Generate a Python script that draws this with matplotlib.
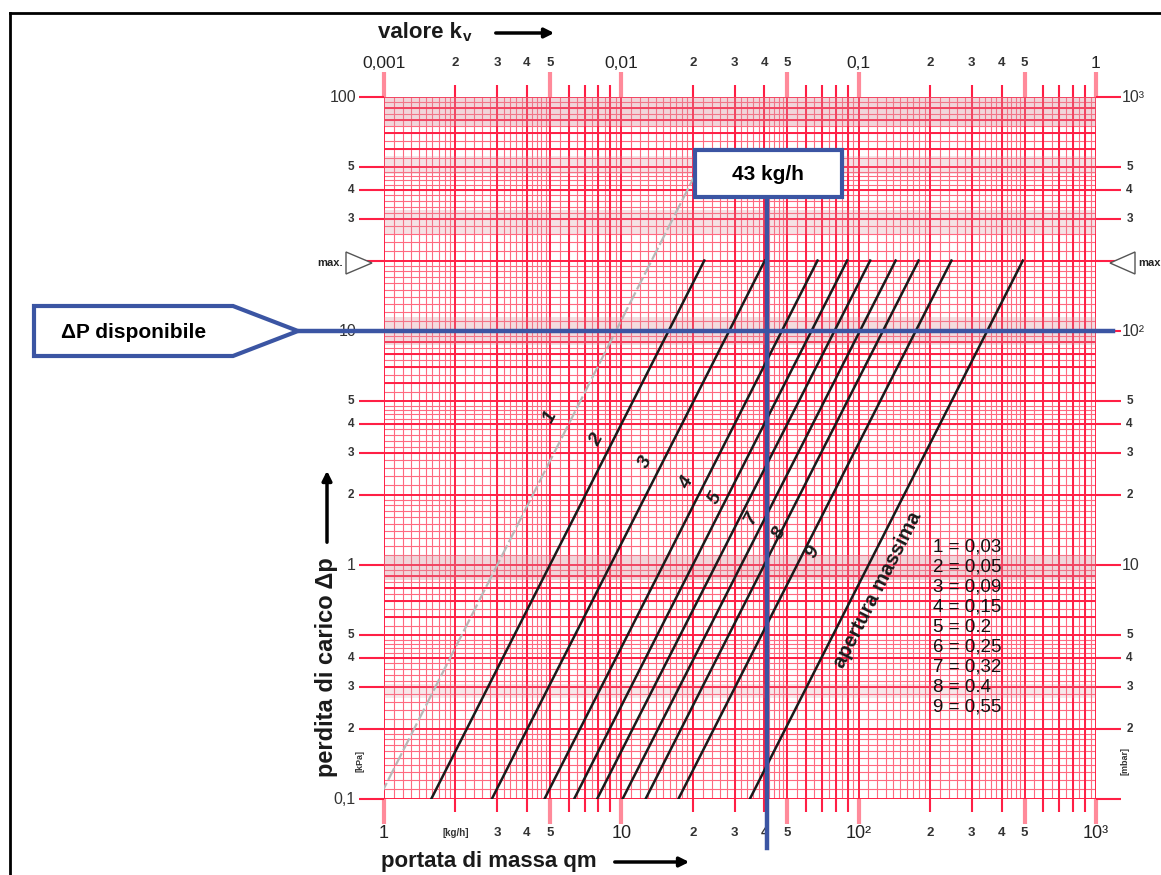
import numpy as np
import matplotlib
matplotlib.use('Agg')
import matplotlib.pyplot as plt
from matplotlib import transforms as mtrans
from matplotlib.patches import Polygon, Rectangle, FancyArrowPatch
from matplotlib.lines import Line2D

plt.rcParams['font.family'] = ['Liberation Sans', 'DejaVu Sans']

# ---------------- data ----------------
curve_ids = ['1', '2', '3', '4', '5', '6', '7', '8', '9']
kv_values = [0.03, 0.05, 0.09, 0.15, 0.2, 0.25, 0.32, 0.4, 0.55]
kv_max_open = 1.1
dp_min = 0.1          # kPa
dp_max = 20           # kPa (max. 2 marker)
dp_max_curve1 = 50    # kPa (light curve 1 extends further)
q_design = 41         # kg/h (blue vertical line, labelled 43 kg/h)
dp_available = 10     # kPa (blue horizontal line)
legend_labels = ['1 = 0,03', '2 = 0,05', '3 = 0,09', '4 = 0,15', '5 = 0.2',
                 '6 = 0,25', '7 = 0,32', '8 = 0.4', '9 = 0,55']
# curve label positions (qm kg/h, dp kPa)
curve_label_x = [5.0, 7.9, 12.6, 18.9, 24.8, None, 35.4, 46.5, 64.0]
curve_label_y = [4.29, 3.42, 2.76, 2.24, 1.93, None, 1.59, 1.37, 1.14]
open_label_xy = (120, 0.78)

x_ticks_big = [1, 10, 100, 1000]
x_ticks_big_lbl = ['1', '10', '10²', '10³']
x_ticks_small = [3, 4, 5, 20, 30, 40, 50, 200, 300, 400, 500]
x_ticks_small_lbl = ['3', '4', '5', '2', '3', '4', '5', '2', '3', '4', '5']
kv_ticks_big = [0.001, 0.01, 0.1, 1]
kv_ticks_big_lbl = ['0,001', '0,01', '0,1', '1']
kv_ticks_small = [0.002, 0.003, 0.004, 0.005, 0.02, 0.03, 0.04, 0.05,
                  0.2, 0.3, 0.4, 0.5]
kv_ticks_small_lbl = ['2', '3', '4', '5'] * 3
y_ticks_big = [100, 10, 1, 0.1]
y_ticks_big_lbl_left = ['100', '10', '1', '0,1']
y_ticks_big_lbl_right = ['10³', '10²', '10', '']
y_ticks_small = [50, 40, 30, 5, 4, 3, 2, 0.5, 0.4, 0.3, 0.2]
y_ticks_small_lbl = ['5', '4', '3', '5', '4', '3', '2', '5', '4', '3', '2']

# ---------------- figure ----------------
W, H = 1161, 875
fig = plt.figure(figsize=(W / 100, H / 100), dpi=100)
fig.patch.set_facecolor('white')

L, R, T, B = 384, 1096, 97, 799
ax = fig.add_axes([L / W, 1 - B / H, (R - L) / W, (B - T) / H])
ax.set_xscale('log')
ax.set_yscale('log')
ax.set_xlim(1, 1000)
ax.set_ylim(0.1, 100)
for s in ax.spines.values():
    s.set_visible(False)

def F(px, py):
    """pixel -> figure fraction"""
    return (px / W, 1 - py / H)

ax_h = B - T

# ---------- grid ----------
RED = '#ff1f45'
RED_L = '#ff6a80'
fine = list(np.arange(1.1, 2.0, 0.1)) + list(np.arange(2.2, 5.0, 0.2)) + list(np.arange(5.5, 10, 0.5))
for d in [1, 10, 100]:
    for k in range(1, 10):
        ax.axvline(k * d, color=RED, lw=1.4, zorder=1)
    for f in fine:
        ax.axvline(f * d, color=RED_L, lw=0.8, zorder=0.8)
ax.axvline(1000, color=RED, lw=1.4, zorder=1)
for d in [0.1, 1, 10]:
    for k in range(1, 10):
        ax.axhline(k * d, color=RED, lw=1.4, zorder=1)
    for f in fine:
        ax.axhline(f * d, color=RED_L, lw=0.8, zorder=0.8)
ax.axhline(100, color=RED, lw=1.4, zorder=1)

# scan-like shaded bands
for lo, hi, a in [(75, 100, 0.35), (47, 56, 0.25), (26, 33, 0.25), (8.7, 11.5, 0.3),
                  (0.86, 1.1, 0.35), (0.27, 0.31, 0.2)]:
    ax.axhspan(lo, hi, color='#d98c98', alpha=a, lw=0, zorder=1.2)

# ---------- ticks (stubs) ----------
ax.set_xticks([1, 5, 10, 50, 100, 500, 1000])
ax.set_xticks([2, 3, 4, 6, 7, 8, 9, 20, 30, 40, 60, 70, 80, 90,
               200, 300, 400, 600, 700, 800, 900], minor=True)
ax.set_yticks([k * d for d in [0.1, 1, 10] for k in [1, 2, 3, 4, 5]] + [100])
ax.set_yticks([], minor=True)
ax.tick_params(axis='x', which='major', length=18, width=3, color='#ff8a9a',
               direction='out', top=True, bottom=True, labelbottom=False, labeltop=False)
ax.tick_params(axis='x', which='minor', length=9, width=1.5, color=RED,
               direction='out', top=True, bottom=True, labelbottom=False, labeltop=False)
ax.tick_params(axis='y', which='major', length=18, width=1.5, color=RED,
               direction='out', left=True, right=True, labelleft=False, labelright=False)

# ---------- curves ----------
def qm(kv, dp):
    return 1000 * kv * np.sqrt(np.asarray(dp) / 100.0)

for i, kv in enumerate(kv_values):
    if i == 0:
        dps = np.array([dp_min * 0.9, dp_max_curve1])
        ax.plot(qm(kv, dps), dps, color='#b8b8b8', lw=1.6, ls=(0, (6, 1.5)), zorder=3)
    else:
        dps = np.array([dp_min, dp_max])
        ax.plot(qm(kv, dps), dps, color='#1a1a1a', lw=1.8, zorder=3)
dps = np.array([dp_min, dp_max])
ax.plot(qm(kv_max_open, dps), dps, color='#1a1a1a', lw=1.8, zorder=3)

ang = 62
for cid, lx, ly in zip(curve_ids, curve_label_x, curve_label_y):
    if lx is None:
        continue
    ax.text(lx, ly, cid, fontsize=14, fontweight='bold', fontstyle='italic',
            rotation=ang, ha='center', va='center', color='#1a1a1a', zorder=4)
ax.text(open_label_xy[0], open_label_xy[1], 'apertura massima', fontsize=14.5,
        fontweight='bold', rotation=63, ha='center', va='center',
        color='#1a1a1a', zorder=4)

# legend list
for j, t in enumerate(legend_labels):
    fig.text(*F(933, 547 + j * 20), t, fontsize=13.5, ha='left', va='center',
             color='#111', zorder=5)

# ---------- tick labels ----------
xtr = ax.get_xaxis_transform()
ytr = ax.get_yaxis_transform()
yb = -(833 - B) / ax_h
for v, t in zip(x_ticks_big, x_ticks_big_lbl):
    ax.text(v, yb, t, transform=xtr, fontsize=13, ha='center', va='center', color='#222')
for v, t in zip(x_ticks_small, x_ticks_small_lbl):
    ax.text(v, yb, t, transform=xtr, fontsize=9.5, fontweight='bold', ha='center',
            va='center', color='#333')
ax.text(2.0, yb, '[kg/h]', transform=xtr, fontsize=7, fontweight='bold',
        ha='center', va='center', color='#333')

yt = 1 + (97 - 63) / ax_h
for v, t in zip(kv_ticks_big, kv_ticks_big_lbl):
    ax.text(v * 1000, yt, t, transform=xtr, fontsize=12.5, ha='center', va='center', color='#222')
for v, t in zip(kv_ticks_small, kv_ticks_small_lbl):
    ax.text(v * 1000, yt, t, transform=xtr, fontsize=9.5, fontweight='bold', ha='center',
            va='center', color='#333')

xl = -(L - 356) / (R - L)
xr = 1 + (1122 - R) / (R - L)
for v, tl, tr in zip(y_ticks_big, y_ticks_big_lbl_left, y_ticks_big_lbl_right):
    ax.text(xl, v, tl, transform=ytr, fontsize=11.5, ha='right', va='center', color='#333')
    ax.text(xr, v, tr, transform=ytr, fontsize=11.5, ha='left', va='center', color='#333')
for v, t in zip(y_ticks_small, y_ticks_small_lbl):
    ax.text(xl - 0.002, v, t, transform=ytr, fontsize=8.5, fontweight='bold', ha='right',
            va='center', color='#333')
    ax.text(xr + 0.006, v, t, transform=ytr, fontsize=8.5, fontweight='bold', ha='left',
            va='center', color='#333')
ax.text(-(L - 360) / (R - L), 0.145, '[kPa]', transform=ytr, fontsize=6.5, fontweight='bold',
        rotation=90, ha='center', va='center', color='#333')
ax.text(1 + (1125 - R) / (R - L), 0.145, '[mbar]', transform=ytr, fontsize=6.5,
        fontweight='bold', rotation=90, ha='center', va='center', color='#333')

# max markers at 20 kPa
ymax_px = 263
fig.add_artist(Polygon([F(346, 252), F(346, 274), F(372, ymax_px)], closed=True,
                       fc='white', ec='#555', lw=1, zorder=5))
fig.text(*F(354, ymax_px), '2', fontsize=7, ha='center', va='center', color='#444')
fig.text(*F(343, ymax_px), 'max.', fontsize=8, fontweight='bold', ha='right', va='center', color='#222')
fig.add_artist(Polygon([F(1135, 252), F(1135, 274), F(1110, ymax_px)], closed=True,
                       fc='white', ec='#555', lw=1, zorder=5))
fig.text(*F(1127, ymax_px), '2', fontsize=7, ha='center', va='center', color='#444')
fig.text(*F(1138, ymax_px), 'max', fontsize=8, fontweight='bold', ha='left', va='center', color='#222')

# ---------- axis titles ----------
t1 = fig.text(*F(378, 33), 'valore k', fontsize=16, fontweight='bold', ha='left',
              va='center', color='#1a1a1a')
fig.canvas.draw()
bb = t1.get_window_extent()
fig.text(bb.x1 / W + 0.001, (H - 37) / H, 'v', fontsize=11, fontweight='bold', ha='left',
         va='center', color='#1a1a1a')
fig.add_artist(FancyArrowPatch(F(493, 33), F(557, 33), transform=fig.transFigure,
                               arrowstyle='-|>', mutation_scale=14, lw=2.5, color='black'))

fig.text(*F(381, 862), 'portata di massa qm', fontsize=16, fontweight='bold', ha='left',
         va='center', color='#1a1a1a')
fig.add_artist(FancyArrowPatch(F(612, 862), F(692, 862), transform=fig.transFigure,
                               arrowstyle='-|>', mutation_scale=14, lw=2.5, color='black'))

fig.text(*F(326, 667), 'perdita di carico Δp', fontsize=17, fontweight='bold', rotation=90,
         ha='center', va='center', color='#1a1a1a')
fig.add_artist(FancyArrowPatch(F(327, 545), F(327, 468), transform=fig.transFigure,
                               arrowstyle='-|>', mutation_scale=14, lw=2.5, color='black'))

# ---------- blue annotations ----------
BLUE = '#3b55a3'
bt = mtrans.blended_transform_factory(fig.transFigure, ax.transData)
fig.add_artist(Line2D([300 / W, 1113 / W], [dp_available, dp_available], transform=bt,
                      color=BLUE, lw=3.2, zorder=6))
bt2 = mtrans.blended_transform_factory(ax.transData, fig.transFigure)
fig.add_artist(Line2D([q_design, q_design], [1 - 197 / H, 1 - 848 / H], transform=bt2,
                      color=BLUE, lw=3.2, zorder=6))
fig.add_artist(Rectangle(F(695, 197), 147 / W, 47 / H, transform=fig.transFigure,
                         fc='white', ec=BLUE, lw=3, zorder=7))
fig.text(*F(768, 174), '43 kg/h', fontsize=15, fontweight='bold', ha='center', va='center',
         color='black', zorder=8)
fig.add_artist(Polygon([F(34, 306), F(233, 306), F(298, 331), F(233, 356), F(34, 356)],
                       closed=True, transform=fig.transFigure, fc='white', ec=BLUE,
                       lw=3, zorder=7))
fig.text(*F(134, 333), 'ΔP disponibile', fontsize=15, fontweight='bold', ha='center',
         va='center', color='black', zorder=8)

# frame
fig.add_artist(Line2D([10 / W, 10 / W], [0, 1 - 13 / H], transform=fig.transFigure,
                      color='black', lw=2))
fig.add_artist(Line2D([10 / W, 1], [1 - 13 / H, 1 - 13 / H], transform=fig.transFigure,
                      color='black', lw=2))

fig.savefig('out.png', dpi=100, facecolor='white')
